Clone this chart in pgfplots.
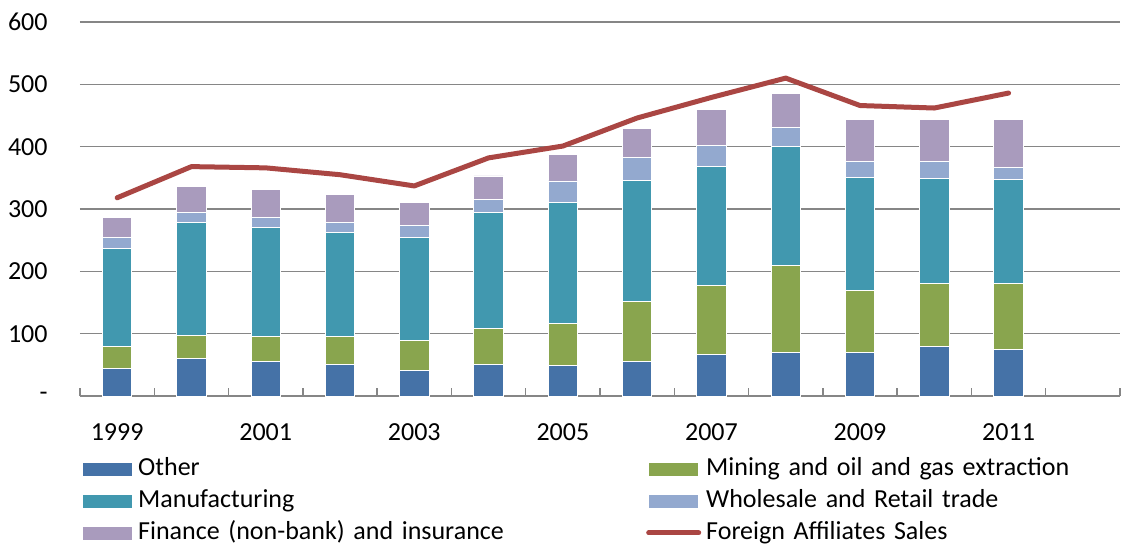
\documentclass[border=0pt]{standalone}
\usepackage{fontspec}
\setmainfont{Carlito}
\usepackage{pgfplots}
\pgfplotsset{compat=1.18}
\usepackage{pgfplotstable}

\definecolor{cother}{HTML}{4572A7}
\definecolor{cmining}{HTML}{89A54E}
\definecolor{cmanuf}{HTML}{4198AF}
\definecolor{ctrade}{HTML}{93A9CF}
\definecolor{cfin}{HTML}{A99BBD}
\definecolor{csales}{HTML}{AA4643}
\definecolor{gridgrey}{HTML}{868686}

% segments in bn, line = foreign affiliates sales
\pgfplotstableread{
x  other mining manuf trade finance sales
0  44    36     156   18    33      318
1  60    37     182   15    42      368
2  56    39     176   16    45      366
3  50    45     167   16    45      355
4  41    48     165   20    37      337
5  51    57     187   21    37      382
6  49    67     194   35    43      401
7  56    95     195   36    47      446
8  66    112    190   34    57      479
9  70    139    192   30    55      510
10 70    99     181   27    66      466
11 79    101    169   28    66      462
12 75    105    167   20    76      486
}\fdidata

\newcommand{\lblfont}{\fontsize{13}{15.6}\selectfont}

\pgfplotsset{
  barleg/.style={legend image code/.code={\fill[##1] (0pt,-3.5pt) rectangle (25pt,3.5pt);}},
  lineleg/.style={legend image code/.code={\draw[##1] (0pt,0pt) -- (25pt,0pt);}},
  samebox/.style={at={(0,0)}, anchor=south west, scale only axis,
    width=520pt, height=187pt, xmin=-0.5, xmax=13.5, ymin=0, ymax=600},
}

\begin{document}
\begin{tikzpicture}
\begin{axis}[
  samebox,
  ybar stacked, bar width=14.7pt,
  xtick={0,2,...,12},
  xticklabels={1999,2001,2003,2005,2007,2009,2011},
  minor xtick={-0.5,0.5,...,13.5},
  ytick={0,100,...,600},
  yticklabels={-\hspace{6pt},100,200,300,400,500,600},
  ymajorgrids, grid style={draw=gridgrey, line width=0.75pt},
  axis x line*=bottom, axis y line*=left,
  x axis line style={draw=gridgrey, line width=0.75pt, -},
  y axis line style={draw=none},
  major x tick style={draw=none},
  minor x tick style={draw=gridgrey, line width=0.75pt},
  ytick style={draw=none},
  tick align=inside, minor tick length=4pt,
  tick label style={font=\lblfont},
  yticklabel style={inner sep=0pt, anchor=east, xshift=-16pt},
  xticklabel style={inner sep=0pt, anchor=center, yshift=-18pt},
  legend columns=2, legend cell align=left,
  legend style={at={(0,0)}, anchor=north west, xshift=1pt, yshift=-30.5pt,
    draw=none, fill=none, inner sep=0pt, font=\lblfont, row sep=4.5pt,
    nodes={inner sep=0pt, text width=254pt, text height=9pt, text depth=2.5pt},
    /tikz/every odd column/.append style={column sep=2.5pt}},
  every axis plot/.append style={draw=white, line width=0.4pt},
]
\addplot[fill=cother, barleg] table[x=x, y=other]{\fdidata};
\addlegendentry{Other}
\addplot[fill=cmining, barleg] table[x=x, y=mining]{\fdidata};
\addlegendentry{Mining and oil and gas extraction}
\addplot[fill=cmanuf, barleg] table[x=x, y=manuf]{\fdidata};
\addlegendentry{Manufacturing}
\addplot[fill=ctrade, barleg] table[x=x, y=trade]{\fdidata};
\addlegendentry{Wholesale and Retail trade}
\addplot[fill=cfin, barleg] table[x=x, y=finance]{\fdidata};
\addlegendentry{Finance (non-bank) and insurance}
\addlegendimage{draw=csales, line width=2.5pt, line cap=round, lineleg}
\addlegendentry{Foreign Affiliates Sales}
\end{axis}
\begin{axis}[samebox, hide axis, clip=false]
\addplot[csales, line width=2.5pt, line cap=round, line join=round]
  table[x=x, y=sales]{\fdidata};
\end{axis}
\pgfresetboundingbox
\path (-40pt,-75pt) rectangle (524pt,198pt);
\end{tikzpicture}
\end{document}
